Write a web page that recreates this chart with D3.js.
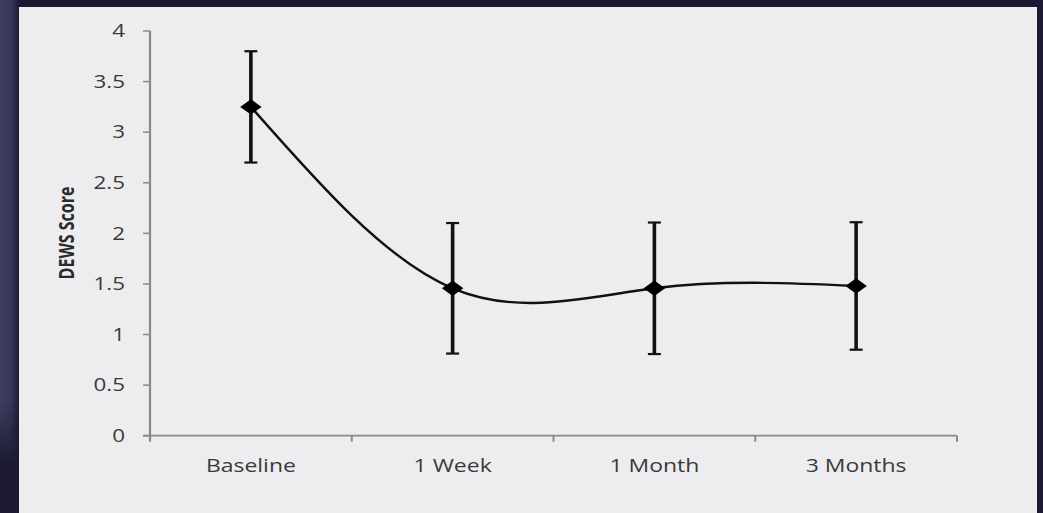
<!DOCTYPE html>
<html><head><meta charset="utf-8">
<script src="https://cdn.jsdelivr.net/npm/d3@7"></script>
<style>html,body{margin:0;padding:0;background:#1c1a32;overflow:hidden}</style>
</head><body>
<svg id="c" width="1043" height="513"></svg>
<script>
const categories = ["Baseline", "1 Week", "1 Month", "3 Months"];
const means = [3.25, 1.457, 1.457, 1.48];
const errors = [0.55, 0.645, 0.65, 0.63];
const yTicks = [0, 0.5, 1, 1.5, 2, 2.5, 3, 3.5, 4];
const yTitle = "DEWS Score";

const svg = d3.select("#c");
const defs = svg.append("defs");
const gh = defs.append("linearGradient").attr("id","gh").attr("x1",0).attr("x2",1).attr("y1",0).attr("y2",0);
gh.append("stop").attr("offset","0%").attr("stop-color","#3e3e63");
gh.append("stop").attr("offset","55%").attr("stop-color","#38385c");
gh.append("stop").attr("offset","100%").attr("stop-color","#1d1b35");
const gv = defs.append("linearGradient").attr("id","gv").attr("x1",0).attr("x2",0).attr("y1",0).attr("y2",1);
gv.append("stop").attr("offset","0%").attr("stop-color","#1c1a32").attr("stop-opacity",0);
gv.append("stop").attr("offset","100%").attr("stop-color","#1c1a32").attr("stop-opacity",1);

svg.append("rect").attr("width",1043).attr("height",513).attr("fill","#1c1a32");
svg.append("rect").attr("x",0).attr("y",0).attr("width",19).attr("height",460).attr("fill","url(#gh)");
svg.append("rect").attr("x",0).attr("y",400).attr("width",19).attr("height",65).attr("fill","url(#gv)");
svg.append("rect").attr("x",19).attr("y",7).attr("width",1018).attr("height",506).attr("fill","#ededf0");

const x = d3.scaleBand().domain(categories).range([150, 957]).padding(0);
const y = d3.scaleLinear().domain([0, 4]).range([435.7, 31]);
const cx = c => x(c) + x.bandwidth() / 2;
const SX = 1.28;
const font = "'Open Sans', sans-serif";

// y axis
const ya = svg.append("g");
ya.append("line").attr("x1",150).attr("x2",150).attr("y1",y(4)).attr("y2",y(0)+5).attr("stroke","#8a8a8a").attr("stroke-width",2.2);
ya.selectAll("line.t").data(yTicks).join("line").attr("class","t")
  .attr("x1",143).attr("x2",150).attr("y1",d=>y(d)).attr("y2",d=>y(d))
  .attr("stroke","#8a8a8a").attr("stroke-width",1.5);
ya.selectAll("text").data(yTicks).join("text")
  .attr("transform",d=>`translate(125,${y(d)}) scale(${SX},1)`)
  .attr("text-anchor","end").attr("dy","0.36em")
  .attr("font-family",font).attr("font-size",17.5).attr("fill","#3a3a3a")
  .text(d=>d);

// x axis
const xa = svg.append("g");
xa.append("line").attr("x1",143).attr("x2",957).attr("y1",y(0)).attr("y2",y(0)).attr("stroke","#8a8a8a").attr("stroke-width",1.8);
const bounds = categories.map(c=>x(c)).concat([x.range()[1]]);
xa.selectAll("line.t").data(bounds).join("line").attr("class","t")
  .attr("x1",d=>d).attr("x2",d=>d).attr("y1",y(0)).attr("y2",y(0)+6)
  .attr("stroke","#8a8a8a").attr("stroke-width",2);
xa.selectAll("text").data(categories).join("text")
  .attr("transform",d=>`translate(${cx(d)},${y(0)+30}) scale(${SX*0.97},1)`)
  .attr("text-anchor","middle").attr("dy","0.36em")
  .attr("font-family",font).attr("font-size",18.5).attr("fill","#3a3a3a")
  .text(d=>d);

// y title
svg.append("text")
  .attr("transform","translate(67,233) rotate(-90) scale(1,1.28)")
  .attr("text-anchor","middle").attr("dy","0.36em")
  .attr("font-family",font).attr("font-weight","bold").attr("font-size",16).attr("fill","#2a2a2a")
  .text(yTitle);

// smoothed line
const pts = categories.map((c,i)=>[cx(c), y(means[i])]);
svg.append("path").attr("d", d3.line().curve(d3.curveNatural)(pts))
  .attr("fill","none").attr("stroke","#111").attr("stroke-width",2.4);

// error bars
const eb = svg.append("g").selectAll("g").data(categories).join("g");
eb.append("line").attr("x1",d=>cx(d)).attr("x2",d=>cx(d))
  .attr("y1",(d,i)=>y(means[i]+errors[i])).attr("y2",(d,i)=>y(means[i]-errors[i]))
  .attr("stroke","#111").attr("stroke-width",3.6);
eb.append("line").attr("x1",d=>cx(d)-6.5).attr("x2",d=>cx(d)+6.5)
  .attr("y1",(d,i)=>y(means[i]+errors[i])).attr("y2",(d,i)=>y(means[i]+errors[i]))
  .attr("stroke","#111").attr("stroke-width",2.2);
eb.append("line").attr("x1",d=>cx(d)-6.5).attr("x2",d=>cx(d)+6.5)
  .attr("y1",(d,i)=>y(means[i]-errors[i])).attr("y2",(d,i)=>y(means[i]-errors[i]))
  .attr("stroke","#111").attr("stroke-width",2.2);

// diamonds
svg.append("g").selectAll("path").data(categories).join("path")
  .attr("transform",(d,i)=>`translate(${cx(d)},${y(means[i])}) scale(1.4,1)`)
  .attr("d", d3.symbol().type(d3.symbolDiamond2).size(150)())
  .attr("fill","#000");
</script>
</body></html>
